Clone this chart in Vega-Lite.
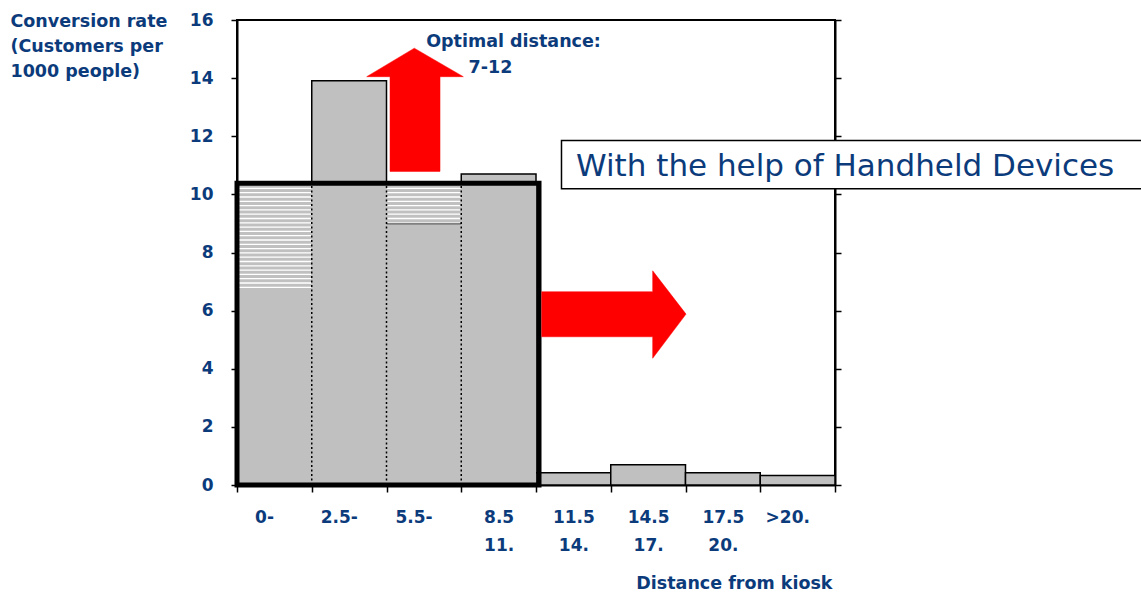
{
  "$schema": "https://vega.github.io/schema/vega-lite/v6.json",
  "width": 598,
  "height": 465,
  "autosize": {"type": "none"},
  "padding": {"left": 237, "top": 20, "right": 306, "bottom": 109},
  "background": "white",
  "view": {"stroke": "black", "strokeWidth": 2},
  "config": {
    "axis": {
      "domainColor": "black", "domainWidth": 2,
      "tickColor": "black", "tickWidth": 1.5, "tickSize": 6,
      "labelFont": "DejaVu Sans", "labelFontWeight": "bold", "labelFontSize": 17, "labelColor": "#0c3b7c",
      "titleFont": "DejaVu Sans", "titleFontWeight": "bold", "titleFontSize": 17.5, "titleColor": "#0c3b7c",
      "grid": false
    }
  },
  "datasets": {
    "bars": [
      {"bin": 0, "bin_end": 1, "label": "0-", "rate": 6.78},
      {"bin": 1, "bin_end": 2, "label": "2.5-", "rate": 13.91},
      {"bin": 2, "bin_end": 3, "label": "5.5-", "rate": 9.0},
      {"bin": 3, "bin_end": 4, "label": "8.5-11.", "rate": 10.7},
      {"bin": 4, "bin_end": 5, "label": "11.5-14.", "rate": 0.42},
      {"bin": 5, "bin_end": 6, "label": "14.5-17.", "rate": 0.7},
      {"bin": 6, "bin_end": 7, "label": "17.5-20.", "rate": 0.42},
      {"bin": 7, "bin_end": 8, "label": ">20.", "rate": 0.33}
    ],
    "handheld": [{"bin": 0, "bin_end": 4, "rate": 10.38}],
    "hatch": [
      {"mid": 0.5, "from": 6.78, "to": 10.38},
      {"mid": 2.5, "from": 9.0, "to": 10.38}
    ],
    "dividers": [
      {"x": 1, "from": 0, "to": 10.38},
      {"x": 2, "from": 0, "to": 10.38},
      {"x": 3, "from": 0, "to": 10.38}
    ],
    "arrows": [
      {"arrow": "up", "i": 0, "x": 2.372, "y": 15.03},
      {"arrow": "up", "i": 1, "x": 3.028, "y": 14.05},
      {"arrow": "up", "i": 2, "x": 2.716, "y": 14.05},
      {"arrow": "up", "i": 3, "x": 2.716, "y": 10.79},
      {"arrow": "up", "i": 4, "x": 2.047, "y": 10.79},
      {"arrow": "up", "i": 5, "x": 2.047, "y": 14.05},
      {"arrow": "up", "i": 6, "x": 1.735, "y": 14.05},
      {"arrow": "up", "i": 7, "x": 2.372, "y": 15.03},
      {"arrow": "right", "i": 0, "x": 4.076, "y": 6.65},
      {"arrow": "right", "i": 1, "x": 5.561, "y": 6.65},
      {"arrow": "right", "i": 2, "x": 5.561, "y": 7.37},
      {"arrow": "right", "i": 3, "x": 6.007, "y": 5.88},
      {"arrow": "right", "i": 4, "x": 5.561, "y": 4.36},
      {"arrow": "right", "i": 5, "x": 5.561, "y": 5.1},
      {"arrow": "right", "i": 6, "x": 4.076, "y": 5.1},
      {"arrow": "right", "i": 7, "x": 4.076, "y": 6.65}
    ],
    "notes": [
      {"text": "Optimal distance:", "x": 3.699, "y": 15.08},
      {"text": "7-12", "x": 3.391, "y": 14.17}
    ],
    "callout": [
      {"text": "With the help of Handheld Devices", "x": 4.341, "x2": 12.5, "y": 10.197, "y2": 11.856, "tx": 4.535, "ty": 10.62}
    ]
  },
  "resolve": {"axis": {"y": "independent"}},
  "layer": [
    {
      "data": {"name": "bars"},
      "mark": {"type": "rect", "fill": "#c0c0c0", "stroke": "black", "strokeWidth": 1.5},
      "encoding": {
        "x": {
          "field": "bin", "type": "quantitative",
          "scale": {"domain": [0, 8], "nice": false, "zero": false},
          "axis": {
            "values": [0, 1, 2, 3, 4, 5, 6, 7, 8],
            "labelExpr": "[['0-'],['2.5-'],['5.5-'],['8.5','11.'],['11.5','14.'],['14.5','17.'],['17.5','20.'],['>20.'],['']][datum.value]",
            "labelOffset": {"condition": {"test": "datum.value <= 2 || datum.value == 7", "value": 27}, "value": 37.4},
            "labelAlign": "center", "labelBaseline": "top", "labelPadding": 17,
            "labelLineHeight": 28, "labelOverlap": false, "labelFlush": false,
            "tickSize": 7,
            "title": "Distance from kiosk",
            "titleAlign": "right", "titleX": 595, "titleY": 103, "titleBaseline": "alphabetic"
          }
        },
        "x2": {"field": "bin_end"},
        "y": {
          "field": "rate", "type": "quantitative",
          "scale": {"domain": [0, 16], "nice": false, "zero": true},
          "axis": {
            "orient": "left",
            "values": [0, 2, 4, 6, 8, 10, 12, 14, 16],
            "labelPadding": 18,
            "title": ["Conversion rate", "(Customers per", "1000 people)"],
            "titleAngle": 0, "titleAlign": "left", "titleBaseline": "alphabetic",
            "titleX": -227, "titleY": 6.7, "titleLineHeight": 25
          }
        },
        "y2": {"datum": 0}
      }
    },
    {
      "data": {"name": "handheld"},
      "mark": {"type": "rect", "fill": "#c0c0c0", "strokeWidth": 0},
      "encoding": {
        "x": {"field": "bin", "type": "quantitative"},
        "x2": {"field": "bin_end"},
        "y": {
          "field": "rate", "type": "quantitative",
          "axis": {"orient": "right", "labels": false, "title": null, "values": [0, 2, 4, 6, 8, 10, 12, 14, 16], "tickSize": 6}
        },
        "y2": {"datum": 0}
      }
    },
    {
      "data": {"name": "bars"},
      "transform": [{"filter": "datum.bin == 2"}],
      "mark": {"type": "rule", "stroke": "black", "strokeWidth": 1.5},
      "encoding": {
        "x": {"field": "bin", "type": "quantitative"},
        "x2": {"field": "bin_end"},
        "y": {"field": "rate", "type": "quantitative", "axis": null}
      }
    },
    {
      "data": {"name": "hatch"},
      "mark": {"type": "rule", "stroke": "white", "strokeWidth": 73.5, "strokeDash": [1.3, 3], "strokeCap": "butt"},
      "encoding": {
        "x": {"field": "mid", "type": "quantitative"},
        "y": {"field": "from", "type": "quantitative", "axis": null},
        "y2": {"field": "to"}
      }
    },
    {
      "data": {"name": "dividers"},
      "mark": {"type": "rule", "stroke": "black", "strokeWidth": 1.5, "strokeDash": [2, 2.5]},
      "encoding": {
        "x": {"field": "x", "type": "quantitative"},
        "y": {"field": "from", "type": "quantitative", "axis": null},
        "y2": {"field": "to"}
      }
    },
    {
      "data": {"name": "handheld"},
      "mark": {"type": "rect", "filled": false, "stroke": "black", "strokeWidth": 5, "x2Offset": 3},
      "encoding": {
        "x": {"field": "bin", "type": "quantitative"},
        "x2": {"field": "bin_end"},
        "y": {"field": "rate", "type": "quantitative", "axis": null},
        "y2": {"datum": 0}
      }
    },
    {
      "data": {"name": "arrows"},
      "mark": {"type": "line", "filled": true, "fill": "#ff0000", "stroke": "#ff0000", "strokeWidth": 0.5, "interpolate": "linear"},
      "encoding": {
        "x": {"field": "x", "type": "quantitative"},
        "y": {"field": "y", "type": "quantitative", "axis": null},
        "detail": {"field": "arrow"},
        "order": {"field": "i", "type": "quantitative"}
      }
    },
    {
      "data": {"name": "callout"},
      "mark": {"type": "rect", "fill": "white", "stroke": "black", "strokeWidth": 1.5},
      "encoding": {
        "x": {"field": "x", "type": "quantitative"},
        "x2": {"field": "x2"},
        "y": {"field": "y", "type": "quantitative", "axis": null},
        "y2": {"field": "y2"}
      }
    },
    {
      "data": {"name": "callout"},
      "mark": {"type": "text", "font": "DejaVu Sans", "fontSize": 31, "color": "#0c3b7c", "align": "left", "baseline": "alphabetic"},
      "encoding": {
        "x": {"field": "tx", "type": "quantitative"},
        "y": {"field": "ty", "type": "quantitative", "axis": null},
        "text": {"field": "text"}
      }
    },
    {
      "data": {"name": "notes"},
      "mark": {"type": "text", "font": "DejaVu Sans", "fontWeight": "bold", "fontSize": 17.5, "color": "#0c3b7c", "align": "center", "baseline": "alphabetic"},
      "encoding": {
        "x": {"field": "x", "type": "quantitative"},
        "y": {"field": "y", "type": "quantitative", "axis": null},
        "text": {"field": "text"}
      }
    }
  ]
}
